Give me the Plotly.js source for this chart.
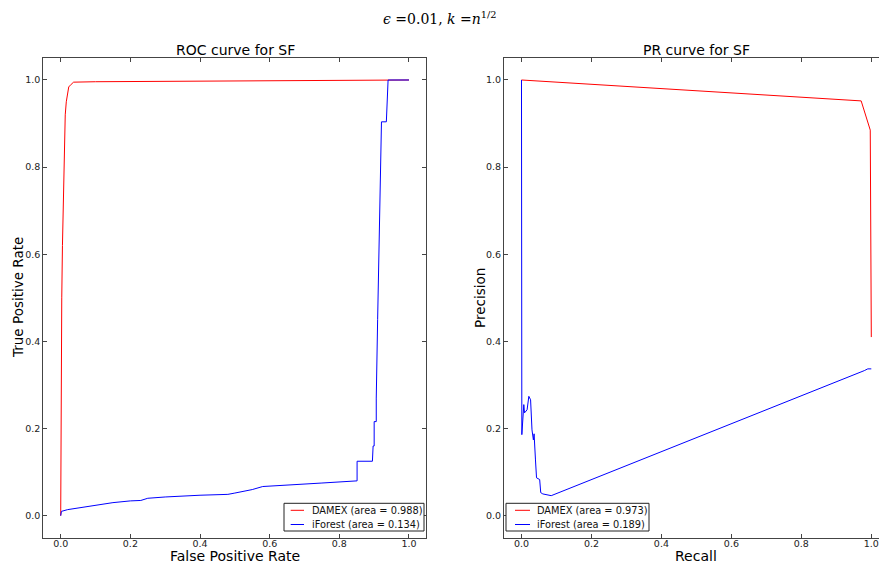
<!DOCTYPE html>
<html>
<head>
<meta charset="utf-8">
<script src="https://cdn.plot.ly/plotly-3.0.1.min.js"></script>
<style>
html,body{margin:0;padding:0;overflow:hidden;background:#fff;}
#chart{width:889px;height:563px;}
</style>
</head>
<body>
<div id="chart"></div>
<script>
// ROC curve data
const rocDamexFpr = [0, 0.001, 0.002, 0.003, 0.005, 0.007, 0.009, 0.011, 0.013, 0.016, 0.02, 0.023, 0.03, 0.037, 0.1, 0.3, 0.6, 0.9, 1.0];
const rocDamexTpr = [0, 0.3, 0.42, 0.5, 0.62, 0.72, 0.8, 0.87, 0.92, 0.95, 0.975, 0.984, 0.99, 0.995, 0.996, 0.997, 0.998, 0.999, 1.0];
const rocIforFpr = [0, 0.002, 0.02, 0.05, 0.1, 0.15, 0.2, 0.23, 0.25, 0.3, 0.4, 0.48, 0.5, 0.55, 0.58, 0.65, 0.75, 0.851, 0.851, 0.895, 0.895, 0.897, 0.9, 0.9, 0.906, 0.906, 0.91, 0.915, 0.918, 0.921, 0.935, 0.938, 0.94, 1.0];
const rocIforTpr = [0, 0.01, 0.014, 0.018, 0.025, 0.03, 0.034, 0.035, 0.04, 0.043, 0.047, 0.049, 0.052, 0.06, 0.067, 0.071, 0.075, 0.08, 0.125, 0.125, 0.151, 0.16, 0.16, 0.216, 0.216, 0.27, 0.45, 0.65, 0.8, 0.904, 0.904, 0.996, 1.0, 1.0];

// PR curve data
const prDamexRecall = [0, 0.971, 0.997, 0.999, 1.0];
const prDamexPrec = [1.0, 0.952, 0.885, 0.65, 0.41];
const prIforRecall = [0, 0.001, 0.0066, 0.0086, 0.016, 0.021, 0.026, 0.03, 0.034, 0.036, 0.04, 0.043, 0.052, 0.055, 0.061, 0.085, 0.98, 0.99, 1.0];
const prIforPrec = [1.0, 0.186, 0.255, 0.236, 0.243, 0.274, 0.266, 0.197, 0.174, 0.188, 0.128, 0.087, 0.083, 0.053, 0.05, 0.046, 0.333, 0.337, 0.337];

// Labels
const seriesNames = ["DAMEX (area = 0.988)", "iForest (area = 0.134)", "DAMEX (area = 0.973)", "iForest (area = 0.189)"];
const tickVals = [0, 0.2, 0.4, 0.6, 0.8, 1.0];
const tickText = ["0.0", "0.2", "0.4", "0.6", "0.8", "1.0"];

const RED = "#ff0000", BLUE = "#0000ff";
const W = 889, H = 563;
const px = v => v / W, py = v => (H - v) / H;

const traces = [
  {x: rocDamexFpr, y: rocDamexTpr, name: seriesNames[0], mode: "lines", line: {color: RED, width: 1}, xaxis: "x", yaxis: "y"},
  {x: rocIforFpr, y: rocIforTpr, name: seriesNames[1], mode: "lines", line: {color: BLUE, width: 1}, xaxis: "x", yaxis: "y"},
  {x: prDamexRecall, y: prDamexPrec, name: seriesNames[2], mode: "lines", line: {color: RED, width: 1}, xaxis: "x2", yaxis: "y2"},
  {x: prIforRecall, y: prIforPrec, name: seriesNames[3], mode: "lines", line: {color: BLUE, width: 1}, xaxis: "x2", yaxis: "y2"}
];

const axBase = {
  range: [-0.05, 1.05], tickvals: tickVals, ticktext: tickText,
  showgrid: false, zeroline: false, showline: true, linecolor: "#444", linewidth: 1,
  mirror: "allticks", ticks: "inside", ticklen: 4, tickcolor: "#444",
  tickfont: {family: "DejaVu Sans", size: 9.5, color: "#222"}, automargin: false
};
const yDom = [py(537.5), py(58.2)];

// Legend boxes drawn as shapes + text (compact, matplotlib-like)
const legendBoxes = [
  {x0: 284, x1: 424, lx0: 290.7, lx1: 304, tx: 310, names: [seriesNames[0], seriesNames[1]]},
  {x0: 506, x1: 649, lx0: 515, lx1: 530, tx: 534.5, names: [seriesNames[2], seriesNames[3]]}
];
const rowY = [510.3, 524.5];
const rowColors = [RED, BLUE];
const shapes = [], legendAnn = [];
legendBoxes.forEach(b => {
  shapes.push({type: "rect", xref: "paper", yref: "paper", x0: px(b.x0), x1: px(b.x1), y0: py(531), y1: py(503.3),
    line: {color: "#222", width: 1}, fillcolor: "#fff", layer: "above"});
  b.names.forEach((n, i) => {
    shapes.push({type: "line", xref: "paper", yref: "paper", x0: px(b.lx0), x1: px(b.lx1), y0: py(rowY[i]), y1: py(rowY[i]),
      line: {color: rowColors[i], width: 1}, layer: "above"});
    legendAnn.push({text: n, x: px(b.tx), y: py(rowY[i]), xref: "paper", yref: "paper", showarrow: false,
      xanchor: "left", yanchor: "middle", font: {family: "DejaVu Sans", size: 9.8, color: "#111"}});
  });
});

const layout = {
  width: W, height: H,
  margin: {l: 0, r: 0, t: 0, b: 0},
  paper_bgcolor: "#fff", plot_bgcolor: "#fff",
  showlegend: false,
  xaxis: Object.assign({}, axBase, {domain: [px(43.3), px(426.4)], anchor: "y", ticklabelstandoff: -3}),
  yaxis: Object.assign({}, axBase, {domain: yDom, anchor: "x"}),
  xaxis2: Object.assign({}, axBase, {domain: [px(504), px(888.8)], anchor: "y2", ticklabelstandoff: -3}),
  yaxis2: Object.assign({}, axBase, {domain: yDom, anchor: "x2"}),
  shapes: shapes,
  annotations: [
    {text: "<i>ϵ</i> =0.01, <i>k</i> =<i>n</i><sup>1/2</sup>", x: px(440), y: py(18), xref: "paper", yref: "paper", showarrow: false, xanchor: "center", yanchor: "middle", font: {family: "DejaVu Serif", size: 14, color: "#000"}},
    {text: "ROC curve for SF", x: px(235), y: py(50), xref: "paper", yref: "paper", showarrow: false, xanchor: "center", yanchor: "middle", font: {family: "DejaVu Sans", size: 14, color: "#000"}},
    {text: "PR curve for SF", x: px(696), y: py(50), xref: "paper", yref: "paper", showarrow: false, xanchor: "center", yanchor: "middle", font: {family: "DejaVu Sans", size: 14, color: "#000"}},
    {text: "False Positive Rate", x: px(235), y: py(555.5), xref: "paper", yref: "paper", showarrow: false, xanchor: "center", yanchor: "middle", borderpad: 0, font: {family: "DejaVu Sans", size: 14, color: "#000"}},
    {text: "Recall", x: px(696), y: py(555.5), xref: "paper", yref: "paper", showarrow: false, xanchor: "center", yanchor: "middle", borderpad: 0, font: {family: "DejaVu Sans", size: 14, color: "#000"}},
    {text: "True Positive Rate", x: px(18), y: py(298), xref: "paper", yref: "paper", showarrow: false, xanchor: "center", yanchor: "middle", textangle: -90, font: {family: "DejaVu Sans", size: 13.5, color: "#000"}},
    {text: "Precision", x: px(480), y: py(298), xref: "paper", yref: "paper", showarrow: false, xanchor: "center", yanchor: "middle", textangle: -90, font: {family: "DejaVu Sans", size: 13.5, color: "#000"}}
  ].concat(legendAnn)
};

Plotly.newPlot("chart", traces, layout, {displayModeBar: false, staticPlot: true});
</script>
</body>
</html>
